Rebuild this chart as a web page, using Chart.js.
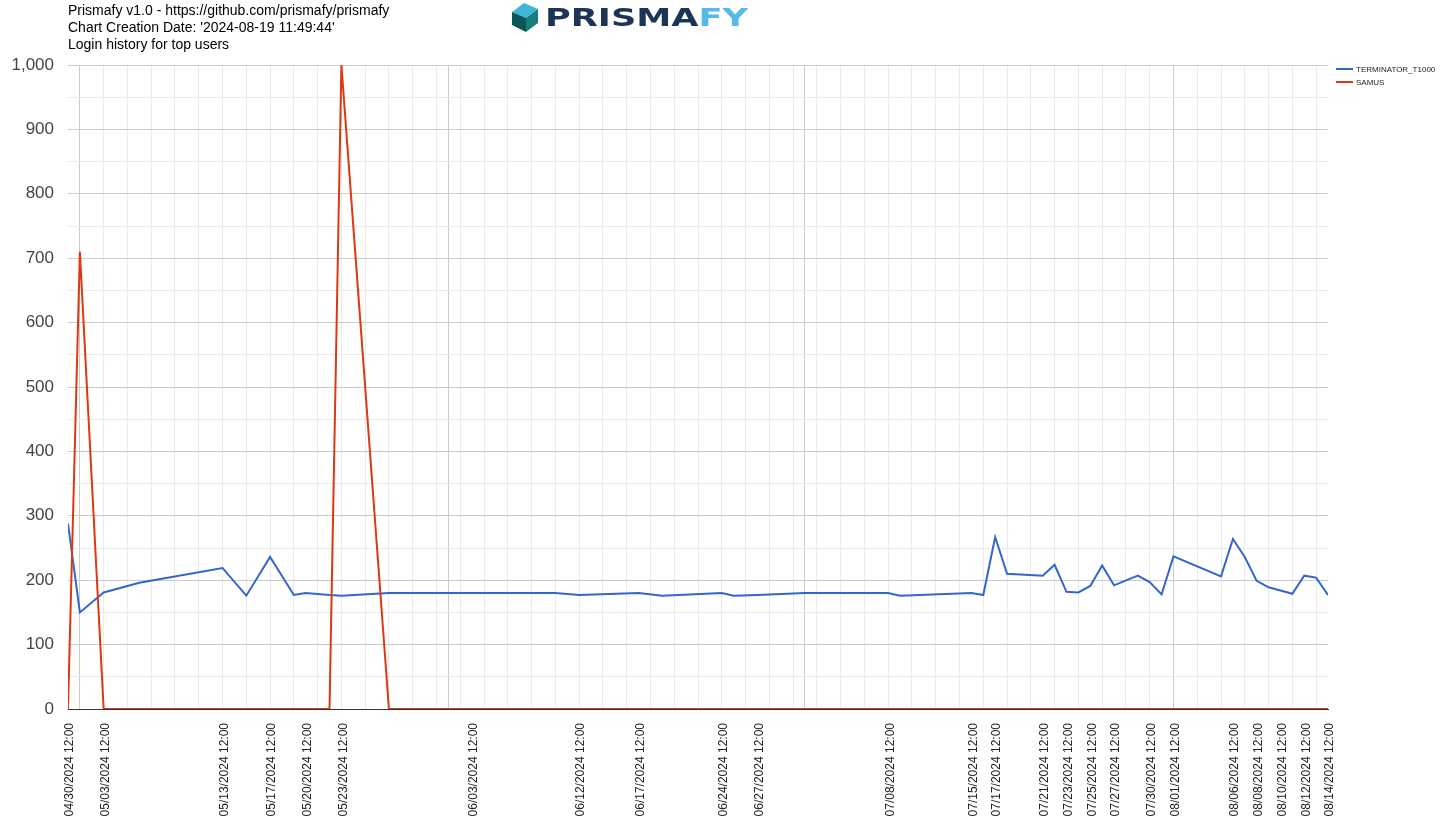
<!DOCTYPE html>
<html>
<head>
<meta charset="utf-8">
<title>Login history for top users</title>
<script src="https://cdn.jsdelivr.net/npm/chart.js@4.4.1/dist/chart.umd.min.js"></script>
<style>
  html, body { margin: 0; padding: 0; background: #fff; }
  #wrap { position: relative; width: 1447px; height: 822px; overflow: hidden; font-family: "Liberation Sans", Arial, sans-serif; }
  #chart { position: absolute; left: 0; top: 0; }
  #head { position: absolute; left: 68px; top: 2px; font-size: 14px; line-height: 17px; color: #000; white-space: nowrap; }
  #logo { position: absolute; left: 508px; top: 0; }
  #legend { position: absolute; left: 1336px; top: 63px; font-size: 8px; color: #222; }
  #legend div { height: 12.7px; display: flex; align-items: center; white-space: nowrap; }
  #legend i { display: inline-block; width: 17px; height: 2px; margin-right: 3px; }
</style>
</head>
<body>
<div id="wrap">
  <canvas id="chart" width="1447" height="822"></canvas>
  <div id="head">
    <div>Prismafy v1.0 - https://github.com/prismafy/prismafy</div>
    <div>Chart Creation Date: '2024-08-19 11:49:44'</div>
    <div>Login history for top users</div>
  </div>
  <svg id="logo" width="250" height="36" viewBox="0 0 250 36">
    <polygon points="4,12 16,3 30,9 18,18" fill="#3fb6d6"/>
    <polygon points="4,12 18,18 18,32 4,25" fill="#0d5557"/>
    <polygon points="18,18 30,9 30,23 18,32" fill="#167f7b"/>
    <text x="37" y="26" font-family="DejaVu Sans" font-weight="bold" font-size="25" textLength="203" lengthAdjust="spacingAndGlyphs" fill="#1c3557">PRISMA<tspan fill="#55b9ea">FY</tspan></text>
  </svg>
  <div id="legend"></div>
</div>
<script>
// data (one row per login date)
const loginDates = [
  "2024-04-30", "2024-05-01", "2024-05-03", "2024-05-06", "2024-05-13", "2024-05-15",
  "2024-05-17", "2024-05-19", "2024-05-20", "2024-05-22", "2024-05-23", "2024-05-27",
  "2024-06-03", "2024-06-10", "2024-06-12", "2024-06-17", "2024-06-19", "2024-06-24",
  "2024-06-25", "2024-06-27", "2024-07-01", "2024-07-08", "2024-07-09", "2024-07-15",
  "2024-07-16", "2024-07-17", "2024-07-18", "2024-07-21", "2024-07-22", "2024-07-23",
  "2024-07-24", "2024-07-25", "2024-07-26", "2024-07-27", "2024-07-29", "2024-07-30",
  "2024-07-31", "2024-08-01", "2024-08-05", "2024-08-06", "2024-08-07", "2024-08-08",
  "2024-08-09", "2024-08-10", "2024-08-11", "2024-08-12", "2024-08-13", "2024-08-14"
];
const terminatorT1000 = [
  288, 150, 181, 196, 219, 176,
  236, 177, 180, 177, 176, 180,
  180, 180, 177, 180, 176, 180,
  176, 177, 180, 180, 176, 180,
  177, 267, 210, 207, 224, 182,
  181, 191, 223, 192, 207, 197,
  178, 237, 206, 264, 236, 199,
  189, 184, 179, 207, 204, 177
];
const samus = [
  0, 710, 0, 0, 0, 0,
  0, 0, 0, 0, 1000, 0,
  0, 0, 0, 0, 0, 0,
  0, 0, 0, 0, 0, 0,
  0, 0, 0, 0, 0, 0,
  0, 0, 0, 0, 0, 0,
  0, 0, 0, 0, 0, 0,
  0, 0, 0, 0, 0, 0
];
const tickDates = [
  "2024-04-30", "2024-05-03", "2024-05-13", "2024-05-17", "2024-05-20", "2024-05-23",
  "2024-06-03", "2024-06-12", "2024-06-17", "2024-06-24", "2024-06-27", "2024-07-08",
  "2024-07-15", "2024-07-17", "2024-07-21", "2024-07-23", "2024-07-25", "2024-07-27",
  "2024-07-30", "2024-08-01", "2024-08-06", "2024-08-08", "2024-08-10", "2024-08-12",
  "2024-08-14"
];
const monthStarts = ["2024-05-01", "2024-06-01", "2024-07-01", "2024-08-01"];
const seriesNames = ["TERMINATOR_T1000", "SAMUS"];
const seriesColors = ["#3366cc", "#dc3912"];

const DAY = 86400000;
const START = Date.parse(loginDates[0] + "T00:00:00Z");
const dayOf = s => Math.round((Date.parse(s + "T00:00:00Z") - START) / DAY);
const pad2 = n => String(n).padStart(2, "0");

function fmtTick(d) {
  const t = new Date(START + d * DAY);
  return pad2(t.getUTCMonth() + 1) + "/" + pad2(t.getUTCDate()) + "/" + t.getUTCFullYear() + " 12:00";
}

const lastDay = dayOf(loginDates[loginDates.length - 1]);
const labelDays = new Set(tickDates.map(dayOf));
const majorDays = new Set(monthStarts.map(dayOf));

// minor grid every 2 days starting at the first month start
const minorDays = new Set();
for (let d = dayOf(monthStarts[0]); d < lastDay; d += 2) minorDays.add(d);

const xTicks = Array.from(new Set([...labelDays, ...majorDays, ...minorDays])).sort((a, b) => a - b);

const toPoints = vals => loginDates.map((s, i) => ({ x: dayOf(s), y: vals[i] }));

// legend
const legend = document.getElementById("legend");
seriesNames.forEach((name, i) => {
  const row = document.createElement("div");
  row.innerHTML = '<i style="background:' + seriesColors[i] + '"></i>' + name;
  legend.appendChild(row);
});

new Chart(document.getElementById("chart"), {
  type: "line",
  data: {
    datasets: [
      {
        label: seriesNames[0],
        data: toPoints(terminatorT1000),
        borderColor: seriesColors[0],
        borderWidth: 2,
        pointRadius: 0,
        tension: 0,
        order: 1
      },
      {
        label: seriesNames[1],
        data: toPoints(samus),
        borderColor: seriesColors[1],
        borderWidth: 2,
        pointRadius: 0,
        tension: 0,
        order: 0
      }
    ]
  },
  options: {
    responsive: false,
    animation: false,
    layout: { padding: { top: 65, right: 119, bottom: 0, left: 0 } },
    plugins: { legend: { display: false }, tooltip: { enabled: false } },
    scales: {
      x: {
        type: "linear",
        min: 0,
        max: lastDay,
        afterBuildTicks: s => { s.ticks = xTicks.map(v => ({ value: v })); },
        afterFit: s => { s.height = 113; },
        ticks: {
          autoSkip: false,
          minRotation: 90,
          maxRotation: 90,
          padding: 14,
          labelOffset: 2,
          color: "#222",
          font: { family: "Liberation Sans", size: 12 },
          callback: v => labelDays.has(v) ? fmtTick(v) : ""
        },
        grid: {
          drawTicks: false,
          color: c => {
            if (!c.tick) return "rgba(0,0,0,0)";
            if (majorDays.has(c.tick.value)) return "#cccccc";
            if (minorDays.has(c.tick.value)) return "#ebebeb";
            return "rgba(0,0,0,0)";
          }
        },
        border: { display: true, color: "#333333", width: 1 }
      },
      y: {
        min: 0,
        max: 1000,
        afterFit: s => { s.width = 68; },
        ticks: {
          stepSize: 50,
          autoSkip: false,
          padding: 14,
          color: "#444",
          font: { family: "Liberation Sans", size: 17 },
          callback: v => v % 100 === 0 ? v.toLocaleString("en-US") : ""
        },
        grid: {
          drawTicks: false,
          color: c => c.tick && c.tick.value % 100 === 0 ? "#cccccc" : "#ebebeb"
        },
        border: { display: false }
      }
    }
  }
});
</script>
</body>
</html>
